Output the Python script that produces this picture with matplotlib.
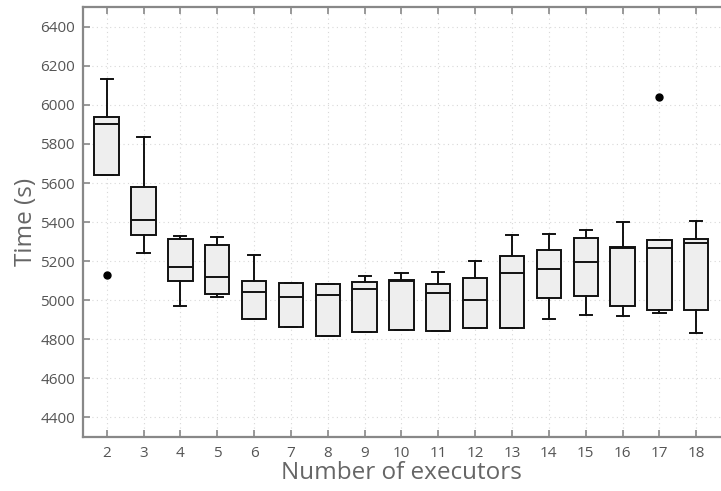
import numpy as np
import matplotlib
matplotlib.use("Agg")
import matplotlib.pyplot as plt

plt.rcParams['font.family'] = ['Open Sans', 'DejaVu Sans']

# executors and box statistics (seconds)
executors = list(range(2, 19))
whis_lo = [5641, 5243, 4971, 5014, 4904, 4863, 4815, 4834, 4847, 4841, 4858, 4858, 4901, 4926, 4921, 4935, 4829]
q1 = [5641, 5336, 5098, 5032, 4904, 4863, 4815, 4834, 4847, 4841, 4858, 4858, 5009, 5022, 4971, 4950, 4947]
median = [5901, 5411, 5171, 5120, 5040, 5014, 5024, 5059, 5097, 5035, 4998, 5140, 5158, 5193, 5267, 5268, 5290]
q3 = [5939, 5579, 5314, 5284, 5099, 5089, 5080, 5091, 5101, 5082, 5115, 5225, 5257, 5319, 5271, 5306, 5314]
whis_hi = [6135, 5834, 5329, 5322, 5230, 5089, 5080, 5124, 5140, 5145, 5199, 5335, 5337, 5361, 5400, 5306, 5405]
outliers = {2: [5130], 17: [6040]}

stats = []
for i, n in enumerate(executors):
    stats.append(dict(med=median[i], q1=q1[i], q3=q3[i],
                      whislo=whis_lo[i], whishi=whis_hi[i],
                      fliers=outliers.get(n, []), label=str(n)))

fig = plt.figure(figsize=(7.21, 4.91), dpi=100)
ax = fig.add_axes([0.1147, 0.1106, 1.0 - 0.1147, 0.985 - 0.1106])

ax.bxp(stats, positions=executors, widths=0.66, patch_artist=True,
       boxprops=dict(facecolor="#eeeeee", edgecolor="#111111", linewidth=1.4),
       medianprops=dict(color="#111111", linewidth=1.4),
       whiskerprops=dict(color="#111111", linewidth=1.4),
       capprops=dict(color="#111111", linewidth=1.4),
       flierprops=dict(marker="o", markerfacecolor="black", markeredgecolor="black", markersize=5))

ax.set_xlim(1.35, 18.67)
ax.set_ylim(4300, 6500)
ax.set_yticks(np.arange(4400, 6401, 200))
ax.set_xticks(executors)
ax.set_xticklabels([str(n) for n in executors])

ax.grid(True, linestyle=(0, (1, 3)), color="#d8d8d8", linewidth=0.8)
ax.set_axisbelow(True)

for side in ["left", "top", "bottom"]:
    ax.spines[side].set_color("#888888")
    ax.spines[side].set_linewidth(1.6)
ax.spines["right"].set_visible(False)

ax.tick_params(direction="in", length=5, width=1.2, color="#888888",
               labelcolor="#555555", labelsize=11, top=True)
ax.tick_params(axis="x", pad=7)
ax.tick_params(axis="y", pad=5.5)

ax.set_xlabel("Number of executors", fontsize=17.5, color="#666666", labelpad=0)
ax.set_ylabel("Time (s)", fontsize=17.5, color="#666666", labelpad=2)

fig.savefig("out.png", dpi=100)
